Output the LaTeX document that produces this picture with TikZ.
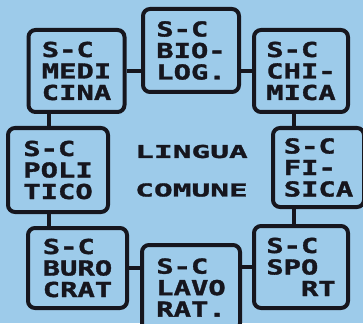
\documentclass[tikz,border=0pt]{standalone}
\usepackage{fontspec}
\newfontfamily\pixfont[FakeStretch=1.4, FakeBold=1.6]{DejaVu Sans Mono Bold}
\newfontfamily\pixwide[FakeStretch=1.75, FakeBold=1.6]{DejaVu Sans Mono Bold}
\definecolor{screen}{HTML}{9DCBEA}
\definecolor{ink}{HTML}{16161E}

\begin{document}
\begin{tikzpicture}[x=1pt, y=-1pt,
	sector/.style={draw=ink, fill=screen, line width=4pt, rounded corners=7pt, minimum width=96pt, minimum height=82pt, inner sep=0pt, align=left, text=ink, font=\pixfont\fontsize{20.6}{21.5}\selectfont},
	link/.style={draw=ink, line width=4pt},
	title/.style={text=ink, inner sep=0pt, font=\pixwide\fontsize{17.8}{18}\selectfont}]
	% Screen, boxes and links:
	\useasboundingbox (0, 0) rectangle (363, 323);
	\clip (0, 0) rectangle (363, 323);
	\fill[screen] (0, 0) rectangle (363, 323);
	\node[sector] (med) at (76.5, 71){S-C\\MEDI\\CINA};
	\node[sector, minimum height=83pt] (bio) at (191, 50.5){S-C\\BIO-\\LOG.};
	\node[sector, minimum width=94pt] (chi) at (301, 71){S-C\\CHI-\\MICA};
	\node[sector, minimum width=100pt, minimum height=84pt] (pol) at (58, 170){S-C\\POLI\\TICO};
	\node[sector, minimum width=91pt, minimum height=79pt] (fis) at (318.5, 167.5){S-C\\FI-\\SICA};
	\node[sector, minimum width=99pt, minimum height=80pt] (bur) at (77.5, 268){S-C\\BURO\\CRAT};
	\node[sector, minimum width=98pt, minimum height=85pt] (lav) at (191, 287.5){S-C\\LAVO\\RAT.};
	\node[sector, minimum width=94pt] (spo) at (301, 267){S-C\\SPO\\\phantom{SP}RT};
	\node[title] (lingua) at (191.5, 151.5){LINGUA};
	\node[title] (comune) at (191.5, 190){COMUNE};
	\coordinate (lcol) at (49, 0);
	\coordinate (rcol) at (294, 0);
	\draw[link] (med.east) -- (med.east -| bio.west);
	\draw[link] (chi.west) -- (chi.west -| bio.east);
	\draw[link] (med.south -| lcol) -- (pol.north -| lcol);
	\draw[link] (pol.south -| lcol) -- (bur.north -| lcol);
	\draw[link] (chi.south -| rcol) -- (fis.north -| rcol);
	\draw[link] (fis.south -| rcol) -- (spo.north -| rcol);
	\draw[link] (bur.east) -- (bur.east -| lav.west);
	\draw[link] (spo.west) -- (spo.west -| lav.east);
\end{tikzpicture}
\end{document}
